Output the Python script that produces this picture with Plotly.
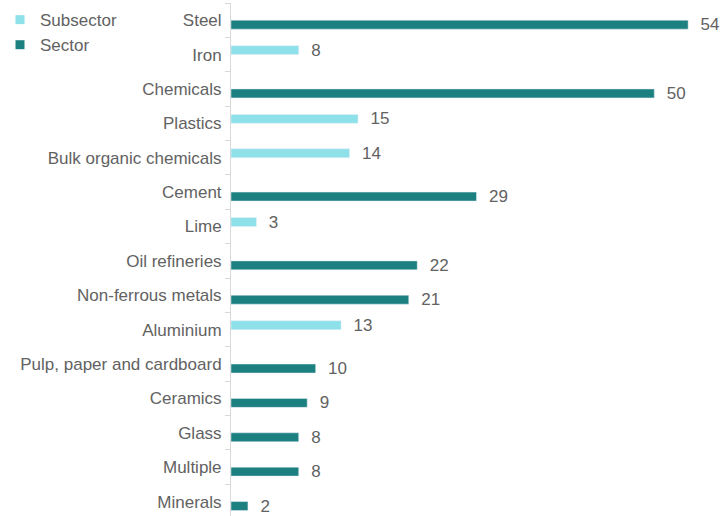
import plotly.graph_objects as go

# Industrial categories, top to bottom
categories = [
    "Steel", "Iron", "Chemicals", "Plastics", "Bulk organic chemicals",
    "Cement", "Lime", "Oil refineries", "Non-ferrous metals", "Aluminium",
    "Pulp, paper and cardboard", "Ceramics", "Glass", "Multiple", "Minerals",
]
# Counts per category, split into sectors and subsectors (None = not applicable)
subsector = [None, 8, None, 15, 14, None, 3, None, None, 13, None, None, None, None, None]
sector = [54, None, 50, None, None, 29, None, 22, 21, None, 10, 9, 8, 8, 2]

SUB_COLOR = "#8fe1e9"
SEC_COLOR = "#1d8080"
TEXT_COLOR = "#626262"
FONT = "Liberation Sans, Arial, sans-serif"

fig = go.Figure()
for name, vals, color in [("Subsector", subsector, SUB_COLOR), ("Sector", sector, SEC_COLOR)]:
    fig.add_trace(go.Bar(
        y=categories, x=vals, orientation="h", name=name,
        marker=dict(color=color), showlegend=False,
        texttemplate="  %{x}", textposition="outside", constraintext="none",
        cliponaxis=False, textfont=dict(size=17, color=TEXT_COLOR, family=FONT),
        hoverinfo="x+y",
    ))
    # square legend swatch
    fig.add_trace(go.Scatter(
        x=[None], y=[None], mode="markers", name=name,
        marker=dict(symbol="square", size=9, color=color),
    ))

fig.update_layout(
    width=723, height=516,
    margin=dict(l=231, r=1, t=3, b=0, autoexpand=False),
    barmode="group", bargap=0.48, bargroupgap=0,
    plot_bgcolor="white", paper_bgcolor="white",
    font=dict(family=FONT, size=17, color=TEXT_COLOR),
    legend=dict(
        xref="container", yref="container", x=0.0, y=0.996,
        xanchor="left", yanchor="top", itemwidth=30,
        font=dict(size=17, color=TEXT_COLOR), tracegroupgap=0,
        bgcolor="rgba(0,0,0,0)",
    ),
    xaxis=dict(range=[0, 58], visible=False, fixedrange=True),
    yaxis=dict(
        type="category", categoryorder="array", categoryarray=categories,
        range=[14.42, -0.5], showline=True, linecolor="#d9d9d9", linewidth=1,
        ticks="outside", tickson="boundaries", ticklen=5, tickcolor="#d9d9d9",
        ticklabelstandoff=5, showgrid=False, zeroline=False, automargin=False,
        tickfont=dict(size=17, color=TEXT_COLOR, family=FONT),
    ),
)

fig.write_html("out.html")
